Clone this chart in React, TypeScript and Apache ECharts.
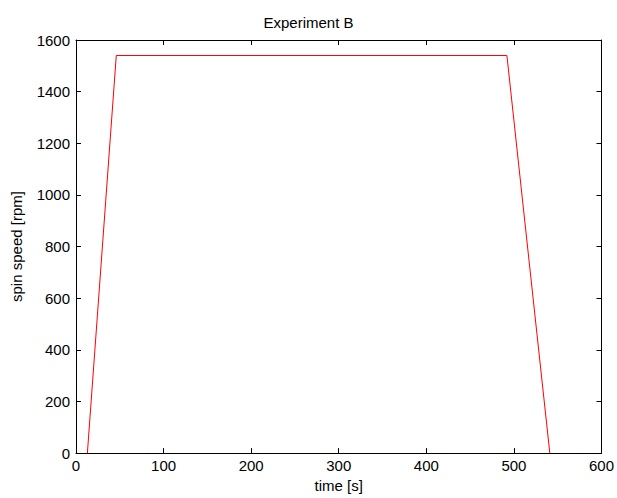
import { useEffect, useRef } from 'react'
import * as echarts from 'echarts'

const timeS = [13, 46, 492, 541]
const spinRpm = [0, 1540, 1540, 0]
const xRange = [0, 600]
const yRange = [0, 1600]

const FONT = 'Arial, "Liberation Sans", sans-serif'
const FS = 15

export default function App() {
  const chartRef = useRef<HTMLDivElement>(null)

  useEffect(() => {
    if (!chartRef.current) return
    const chart = echarts.init(chartRef.current, null, { renderer: 'svg' })

    const axisBase = {
      type: 'value' as const,
      axisLine: { show: true, onZero: false, lineStyle: { color: '#000', width: 1 } },
      axisTick: { show: true, inside: true, length: 5, lineStyle: { color: '#000' } },
      splitLine: { show: false },
    }
    const plain = (v: number) => String(v)

    chart.setOption({
      animation: false,
      backgroundColor: '#fff',
      title: {
        text: 'Experiment B',
        left: 'center',
        top: 10,
        textStyle: { fontFamily: FONT, fontSize: FS, fontWeight: 'normal', color: '#000' },
      },
      grid: { left: 76, right: 14, top: 40, bottom: 43 },
      xAxis: [
        {
          ...axisBase,
          position: 'bottom',
          min: xRange[0],
          max: xRange[1],
          interval: 100,
          name: 'time [s]',
          nameLocation: 'middle',
          nameGap: 24,
          nameTextStyle: { fontFamily: FONT, fontSize: FS, color: '#000' },
          axisLabel: { fontFamily: FONT, fontSize: FS, color: '#000', margin: 5, formatter: plain },
        },
        {
          ...axisBase,
          position: 'top',
          min: xRange[0],
          max: xRange[1],
          interval: 100,
          axisLabel: { show: false },
        },
      ],
      yAxis: [
        {
          ...axisBase,
          position: 'left',
          min: yRange[0],
          max: yRange[1],
          interval: 200,
          name: 'spin speed [rpm]',
          nameLocation: 'middle',
          nameGap: 52,
          nameTextStyle: { fontFamily: FONT, fontSize: FS, color: '#000' },
          axisLabel: { fontFamily: FONT, fontSize: FS, color: '#000', margin: 6, formatter: plain },
        },
        {
          ...axisBase,
          position: 'right',
          min: yRange[0],
          max: yRange[1],
          interval: 200,
          axisLabel: { show: false },
        },
      ],
      series: [
        {
          type: 'line',
          data: timeS.map((t, i) => [t, spinRpm[i]]),
          showSymbol: false,
          lineStyle: { color: '#ff0000', width: 1 },
          itemStyle: { color: '#ff0000' },
        },
      ],
    })

    return () => chart.dispose()
  }, [])

  return (
    <div
      ref={chartRef}
      style={{ position: 'fixed', left: 0, top: 0, width: 617, height: 498 }}
    />
  )
}
